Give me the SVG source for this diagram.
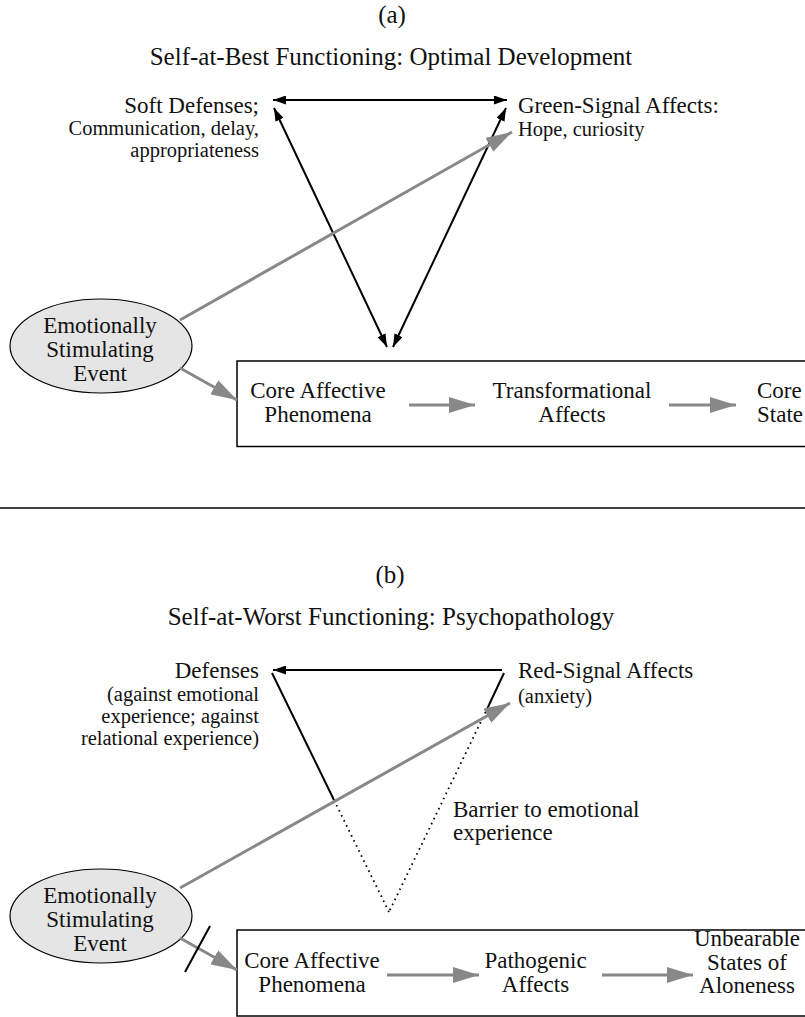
<svg xmlns="http://www.w3.org/2000/svg" width="805" height="1017" viewBox="0 0 805 1017">
<style>
text{font-family:"Liberation Serif","Times New Roman",serif;fill:#111}
.t{font-size:25px;text-anchor:middle}
.l{font-size:23px}
.s{font-size:20.5px}
.m{text-anchor:middle}
.e{text-anchor:end}
.blk{stroke:#000;stroke-width:2;fill:none}
.gry{stroke:#888;stroke-width:3;fill:none}
.dot{stroke:#000;stroke-width:1.8;fill:none;stroke-dasharray:1.6 4}
.box{fill:#fff;stroke:#000;stroke-width:1.5}
.ell{fill:#e5e5e5;stroke:#000;stroke-width:1.2}
</style>
<defs>
<marker id="ab" markerUnits="userSpaceOnUse" viewBox="0 0 13 9" refX="13" refY="4.5" markerWidth="13" markerHeight="9" orient="auto-start-reverse"><path d="M0,0 L13,4.5 L0,9 z" fill="#000"/></marker>
<marker id="ag" markerUnits="userSpaceOnUse" viewBox="0 0 26 16" refX="26" refY="8" markerWidth="26" markerHeight="16" orient="auto"><path d="M0,0 L26,8 L0,16 z" fill="#888"/></marker>
</defs>
<rect width="805" height="1017" fill="#fff"/>

<!-- Panel (a) -->
<g id="panel-a-title">
<text class="t" x="392" y="23">(a)</text>
<text class="t" x="391" y="65">Self-at-Best Functioning: Optimal Development</text>
</g>
<g id="a-soft-defenses">
<text class="l e" x="259" y="113">Soft Defenses;</text>
<text class="s e" x="259" y="135">Communication, delay,</text>
<text class="s e" x="259" y="157">appropriateness</text>
</g>
<g id="a-green-signal">
<text class="l" x="518" y="113">Green-Signal Affects:</text>
<text class="s" x="518" y="136">Hope, curiosity</text>
</g>
<g id="a-event">
<ellipse class="ell" cx="101" cy="346" rx="91" ry="47"/>
<text class="l m" x="100" y="333">Emotionally</text>
<text class="l m" x="100" y="357">Stimulating</text>
<text class="l m" x="100" y="381">Event</text>
</g>
<g id="a-process">
<rect class="box" x="237" y="361" width="590" height="85.5"/>
<text class="l m" x="318" y="398">Core Affective</text>
<text class="l m" x="318" y="421.5">Phenomena</text>
<text class="l m" x="572" y="398">Transformational</text>
<text class="l m" x="572" y="421.5">Affects</text>
<text class="l" x="757" y="398">Core</text>
<text class="l" x="757" y="421.5">State</text>
</g>
<g id="a-connectors">
<line class="blk" x1="273" y1="100" x2="507" y2="100" marker-start="url(#ab)" marker-end="url(#ab)"/>
<line class="blk" x1="274" y1="108" x2="387" y2="347" marker-start="url(#ab)" marker-end="url(#ab)"/>
<line class="blk" x1="506" y1="108" x2="393" y2="347" marker-start="url(#ab)" marker-end="url(#ab)"/>
<line class="gry" x1="180" y1="320" x2="512" y2="132" marker-end="url(#ag)"/>
<line class="gry" x1="180" y1="368" x2="237" y2="400" marker-end="url(#ag)"/>
<line class="gry" x1="409" y1="405" x2="475" y2="405" marker-end="url(#ag)"/>
<line class="gry" x1="669" y1="405" x2="736" y2="405" marker-end="url(#ag)"/>
</g>

<line id="separator" x1="0" y1="508" x2="805" y2="508" stroke="#000" stroke-width="1.3"/>

<!-- Panel (b) -->
<g id="panel-b-title">
<text class="t" x="390" y="583">(b)</text>
<text class="t" x="391" y="625">Self-at-Worst Functioning: Psychopathology</text>
</g>
<g id="b-defenses">
<text class="l e" x="259" y="678">Defenses</text>
<text class="s e" x="259" y="701">(against emotional</text>
<text class="s e" x="259" y="723">experience; against</text>
<text class="s e" x="259" y="745">relational experience)</text>
</g>
<g id="b-red-signal">
<text class="l" x="518" y="678">Red-Signal Affects</text>
<text class="s" x="518" y="703">(anxiety)</text>
</g>
<g id="b-barrier">
<text class="l" x="453" y="817">Barrier to emotional</text>
<text class="l" x="453" y="840">experience</text>
</g>
<g id="b-event">
<ellipse class="ell" cx="101" cy="916" rx="91" ry="47"/>
<text class="l m" x="100" y="903">Emotionally</text>
<text class="l m" x="100" y="927">Stimulating</text>
<text class="l m" x="100" y="951">Event</text>
</g>
<g id="b-process">
<rect class="box" x="237" y="930" width="590" height="86"/>
<text class="l m" x="312" y="968">Core Affective</text>
<text class="l m" x="312" y="991.5">Phenomena</text>
<text class="l m" x="535.5" y="968">Pathogenic</text>
<text class="l m" x="535.5" y="991.5">Affects</text>
<text class="l m" x="747" y="946">Unbearable</text>
<text class="l m" x="747" y="969.5">States of</text>
<text class="l m" x="747" y="993">Aloneness</text>
</g>
<g id="b-connectors">
<line class="blk" x1="502" y1="670" x2="273" y2="670" marker-end="url(#ab)"/>
<line class="blk" x1="272" y1="673" x2="334" y2="800"/>
<line class="dot" x1="334" y1="800" x2="389" y2="912"/>
<line class="blk" x1="504" y1="673" x2="488" y2="707"/>
<line class="dot" x1="488" y1="707" x2="389" y2="912"/>
<line class="gry" x1="180" y1="888" x2="510" y2="703" marker-end="url(#ag)"/>
<line class="gry" x1="180" y1="938" x2="237" y2="970" marker-end="url(#ag)"/>
<line class="gry" x1="387" y1="975" x2="479" y2="975" marker-end="url(#ag)"/>
<line class="gry" x1="602" y1="975" x2="693" y2="975" marker-end="url(#ag)"/>
<line class="blk" x1="210" y1="926" x2="185" y2="972"/>
</g>
</svg>
